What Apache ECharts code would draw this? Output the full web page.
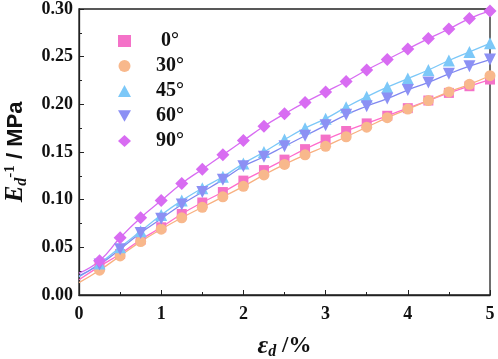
<!DOCTYPE html>
<html><head><meta charset="utf-8">
<script src="https://cdn.jsdelivr.net/npm/echarts@6/dist/echarts.min.js"></script>
<style>html,body{margin:0;padding:0;background:#fff}#c{width:498px;height:359px}</style>
</head><body><div id="c"></div>
<script>
const strain = [0.25,0.5,0.75,1,1.25,1.5,1.75,2,2.25,2.5,2.75,3,3.25,3.5,3.75,4,4.25,4.5,4.75,5];
const names = ['0°','30°','45°','60°','90°'];
const v0  = [0.030,0.043,0.058,0.071,0.085,0.097,0.108,0.120,0.131,0.142,0.153,0.163,0.172,0.180,0.188,0.196,0.204,0.212,0.219,0.226];
const v30 = [0.026,0.041,0.056,0.069,0.081,0.092,0.103,0.114,0.126,0.137,0.147,0.156,0.166,0.176,0.186,0.195,0.204,0.213,0.221,0.230];
const v45 = [0.033,0.050,0.067,0.084,0.099,0.112,0.124,0.138,0.150,0.163,0.175,0.185,0.197,0.208,0.218,0.227,0.236,0.246,0.255,0.264];
const v60 = [0.032,0.048,0.065,0.080,0.095,0.108,0.121,0.135,0.145,0.156,0.167,0.178,0.189,0.198,0.206,0.215,0.223,0.232,0.240,0.247];
const v90 = [0.036,0.060,0.081,0.099,0.117,0.132,0.147,0.162,0.177,0.190,0.202,0.213,0.224,0.236,0.247,0.258,0.269,0.279,0.290,0.298];
// fitted-curve intercepts at strain 0
const fit0 = [0.016,0.013,0.019,0.020,0.023];
const yTicks = ['0.00','0.05','0.10','0.15','0.20','0.25','0.30'];
const xTicks = ['0','1','2','3','4','5'];

const vals = [v0,v30,v45,v60,v90];
const markColors = ['#f472c8','#f8b88c','#7cc8f8','#8c90f4','#d86cf2'];
const lineColors = ['#ff6ccc','#f8b080','#7cc8f8','#8088f0','#d86cf2'];
const symbols = ['rect','circle','triangle','path://M0,0 L10,0 L5,9 Z','diamond'];
const sizes = [10,11,12,12,13];

const series = [];
vals.forEach((v,i)=>{
  series.push({
    name:'fit'+i, type:'line', smooth:0.5, symbol:'none', silent:true,
    lineStyle:{color:lineColors[i], width:1.3}, z:2,
    data:[[0,fit0[i]]].concat(strain.map((x,j)=>[x,v[j]]))
  });
});
vals.forEach((v,i)=>{
  series.push({
    name:names[i], type:'scatter', symbol:symbols[i], symbolSize:sizes[i],
    itemStyle:{color:markColors[i], opacity:1}, z:3,
    data:strain.map((x,j)=>[x,v[j]])
  });
});

const chart = echarts.init(document.getElementById('c'));
const lblFont = {fontFamily:'Liberation Serif', fontWeight:'bold', fontSize:18, color:'#111'};
chart.setOption({
  animation:false,
  grid:{left:79,right:8,top:9,bottom:64,show:true,borderColor:'#222',borderWidth:1.3,containLabel:false,outerBoundsMode:'none'},
  legend:{
    data:names, orient:'vertical', left:113, top:26, itemGap:5,
    itemWidth:13, itemHeight:12,
    textStyle:{fontFamily:'Liberation Serif', fontWeight:'bold', fontSize:20, color:'#111', padding:[0,0,0,20], width:40, align:'left'},
    formatter:n=> n==='0°' ? ' 0°' : n
  },
  xAxis:{
    type:'value', min:0, max:5, interval:1,
    axisLine:{lineStyle:{color:'#222',width:1.3}},
    axisTick:{inside:true,length:5,lineStyle:{color:'#222'}},
    minorTick:{show:true,splitNumber:2,length:3,lineStyle:{color:'#222'}},
    splitLine:{show:false},
    axisLabel:Object.assign({margin:10, formatter:v=>xTicks[Math.round(v)]}, lblFont),
    name:'{e|ε}{s|d}{n| /%}', nameLocation:'middle', nameGap:37,
    nameTextStyle:{rich:{
      e:{fontFamily:'Liberation Serif',fontStyle:'italic',fontWeight:'bold',fontSize:26,color:'#111'},
      s:{fontFamily:'Liberation Serif',fontStyle:'italic',fontWeight:'bold',fontSize:16,color:'#111',padding:[12,0,0,0]},
      n:{fontFamily:'Liberation Serif',fontWeight:'bold',fontSize:23,color:'#111'}
    }}
  },
  yAxis:{
    type:'value', min:0, max:0.30, interval:0.05,
    axisLine:{lineStyle:{color:'#222',width:1.3}},
    axisTick:{inside:true,length:5,lineStyle:{color:'#222'}},
    minorTick:{show:true,splitNumber:2,length:3,lineStyle:{color:'#222'}},
    splitLine:{show:false},
    axisLabel:Object.assign({margin:6, formatter:v=>yTicks[Math.round(v/0.05)]}, lblFont),
    name:'{e|E}{s|d}{p|-1}{n| / MPa}', nameLocation:'middle', nameGap:49, nameRotate:90,
    nameTextStyle:{rich:{
      e:{fontFamily:'Liberation Serif',fontStyle:'italic',fontWeight:'bold',fontSize:25,color:'#111'},
      s:{fontFamily:'Liberation Serif',fontStyle:'italic',fontWeight:'bold',fontSize:16,color:'#111',padding:[12,0,0,0]},
      p:{fontFamily:'Liberation Serif',fontWeight:'bold',fontSize:15,color:'#111',padding:[0,0,12,0]},
      n:{fontFamily:'Liberation Sans',fontWeight:'bold',fontSize:22,color:'#111'}
    }}
  },
  series:series
});
</script></body></html>
